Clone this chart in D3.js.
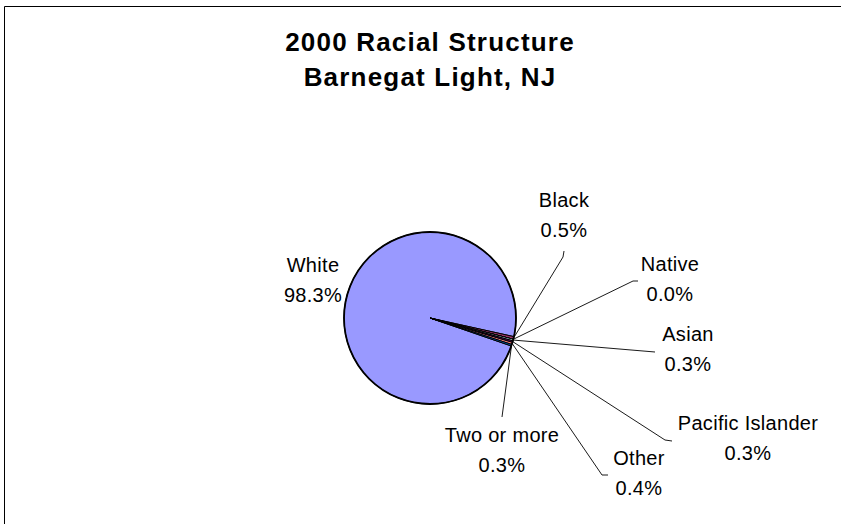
<!DOCTYPE html>
<html>
<head>
<meta charset="utf-8">
<script src="https://cdn.jsdelivr.net/npm/d3@7"></script>
<style>
  html, body { margin: 0; background: #fff; overflow: hidden; }
  svg { display: block; font-family: "Liberation Sans", Arial, sans-serif; }
</style>
</head>
<body>
<div id="chart"></div>
<script>
"use strict";

// 2000 census shares, in percent
const categories = ["White", "Black", "Native", "Asian", "Pacific Islander", "Other", "Two or more"];
const percents = [98.3, 0.5, 0.0, 0.3, 0.3, 0.4, 0.3];
const titleLines = ["2000 Racial Structure", "Barnegat Light, NJ"];

// excel 97 default pie palette
const sliceColors = ["#9999ff", "#993366", "#ffffcc", "#ccffff", "#660066", "#ff8080", "#0066cc"];

// where each label was dragged to (text centre x, first baseline y, leader end points)
const labelLayout = [
  { x: 313, y: 272, leader: null },
  { x: 564, y: 207, leader: [[563, 257], [564, 251]] },
  { x: 670, y: 271, leader: [[633, 281], [638, 281]] },
  { x: 688, y: 341, leader: [[655, 352]] },
  { x: 748, y: 430, leader: [[665, 440], [672, 441]] },
  { x: 639, y: 465, leader: [[602, 475], [608, 475]] },
  { x: 502, y: 442, leader: [[502, 417]] }
];

const width = 841, height = 524;
const cx = 430, cy = 318, radius = 86;
const startDeg = 109;

const svg = d3.select("#chart").append("svg")
  .attr("width", width)
  .attr("height", height);

svg.append("rect")
  .attr("width", width)
  .attr("height", height)
  .attr("fill", "#fff");

// chart area border, runs off the right and bottom of the shot
svg.append("path")
  .attr("d", "M4.5," + height + "V6.5H" + width)
  .attr("fill", "none")
  .attr("stroke", "#000")
  .attr("stroke-width", 1);

// title
const title = svg.append("text")
  .attr("text-anchor", "middle")
  .attr("font-size", 26)
  .attr("font-weight", "bold")
  .attr("letter-spacing", 1.2)
  .attr("fill", "#000");
titleLines.forEach(function(t, i) {
  title.append("tspan")
    .attr("x", 430)
    .attr("y", 51 + i * 34.5)
    .text(t);
});

const data = categories.map(function(c, i) {
  return { name: c, value: percents[i], color: sliceColors[i], layout: labelLayout[i] };
});

const pie = d3.pie()
  .sort(null)
  .value(d => d.value)
  .startAngle(startDeg * Math.PI / 180)
  .endAngle((startDeg + 360) * Math.PI / 180);

const arcs = pie(data);

const arc = d3.arc().innerRadius(0).outerRadius(radius);
const edge = d3.arc().innerRadius(radius).outerRadius(radius);

const g = svg.append("g").attr("transform", "translate(" + cx + "," + cy + ")");

g.selectAll("path.slice")
  .data(arcs)
  .enter().append("path")
  .attr("class", "slice")
  .attr("d", arc)
  .attr("fill", d => d.data.color)
  .attr("stroke", "#000")
  .attr("stroke-width", 1)
  .attr("stroke-linejoin", "round");

// heavier outline round the whole pie
g.append("circle")
  .attr("r", radius)
  .attr("fill", "none")
  .attr("stroke", "#000")
  .attr("stroke-width", 1.8);

// leader lines from slice edge to label
const line = d3.line();
arcs.forEach(function(a) {
  const lay = a.data.layout;
  if (!lay.leader) return;
  const c = edge.centroid(a);
  const pts = [[cx + c[0], cy + c[1]]].concat(lay.leader);
  svg.append("path")
    .attr("d", line(pts))
    .attr("fill", "none")
    .attr("stroke", "#000")
    .attr("stroke-width", 0.9);
});

// labels
const fmt = d3.format(".1f");
arcs.forEach(function(a) {
  const lay = a.data.layout;
  const t = svg.append("text")
    .attr("text-anchor", "middle")
    .attr("font-size", 20)
    .attr("letter-spacing", 0.3)
    .attr("fill", "#000");
  t.append("tspan").attr("x", lay.x).attr("y", lay.y).text(a.data.name);
  t.append("tspan").attr("x", lay.x).attr("y", lay.y + 30).text(fmt(a.data.value) + "%");
});
</script>
</body>
</html>
